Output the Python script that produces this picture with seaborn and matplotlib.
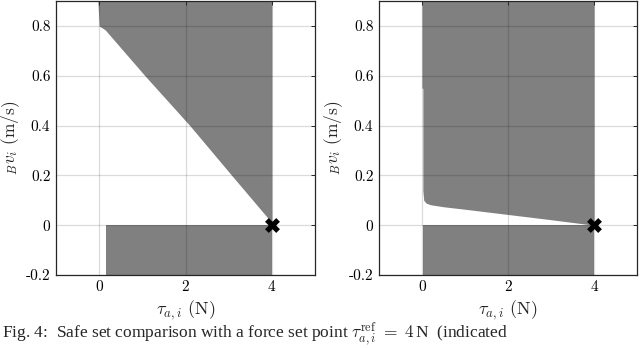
import os
import matplotlib
matplotlib.use("Agg")
import matplotlib.pyplot as plt
from matplotlib.font_manager import FontProperties
import numpy as np
import pandas as pd
import seaborn as sns

# ---------------- data ----------------
# left panel: upper shaded region (above this boundary up to the top of the axes)
left_upper_tau = [-0.03, 0.00, 0.14, 1.06, 2.10, 3.07, 4.00]
left_upper_v = [0.90, 0.80, 0.784, 0.60, 0.40, 0.20, 0.01]
# left panel: lower shaded block
left_lower_tau = [0.16, 4.00]
left_lower_v = [0.0, 0.0]

# right panel: upper shaded region boundary
right_upper_tau = [0.00, 0.02, 0.02, 0.04, 0.10, 0.20, 0.50, 1.00, 2.00, 3.00, 4.00]
right_upper_v = [0.55, 0.55, 0.14, 0.100, 0.088, 0.082, 0.074, 0.064, 0.043, 0.022, 0.00]
# right panel: lower shaded block
right_lower_tau = [0.03, 4.00]
right_lower_v = [0.0, 0.0]

# reference set point (marker)
ref_tau = [4.0]
ref_v = [0.0]

x_ticks = [0, 2, 4]
x_ticklabels = ["0", "2", "4"]
y_ticks = [-0.2, 0.0, 0.2, 0.4, 0.6, 0.8]
y_ticklabels = ["-0.2", "0", "0.2", "0.4", "0.6", "0.8"]
x_lim = (-1, 5)
y_lim = (-0.2, 0.9)

xlabel = r"$\tau_{a,i}$ (N)"
ylabel = r"${}_{B}v_{i}$ (m/s)"
caption = (r"Fig. 4:  Safe set comparison with a force set point "
           r"$\tau^{\mathrm{ref}}_{a,i}\;=\;4\,$N  (indicated")

# ---------------- styling ----------------
sns.set_theme(style="white")
plt.rcParams.update({
    "font.family": ["cmr10", "DejaVu Serif"],
    "mathtext.fontset": "cm",
    "axes.unicode_minus": False,
    "axes.formatter.use_mathtext": True,
    "axes.edgecolor": "#262626",
    "axes.linewidth": 0.9,
})

cm_path = os.path.join(matplotlib.get_data_path(), "fonts", "ttf", "cmr10.ttf")
tick_font = FontProperties(fname=cm_path, size=11)
label_font = FontProperties(fname=cm_path, size=13)

fill_color = "#808080"

fig = plt.figure(figsize=(6.4, 3.48), dpi=100)
ax_l = fig.add_axes([56 / 640, 1 - 275 / 348, 259 / 640, 274 / 348])
ax_r = fig.add_axes([379 / 640, 1 - 275 / 348, 258 / 640, 274 / 348])


def draw_panel(ax, up_tau, up_v, lo_tau, lo_v):
    top = y_lim[1]
    bottom = y_lim[0]
    ax.fill_between(up_tau, up_v, [top] * len(up_tau), color=fill_color,
                    linewidth=0, zorder=1)
    ax.fill_between(lo_tau, [bottom] * len(lo_tau), lo_v, color=fill_color,
                    linewidth=0, zorder=1)
    pts = pd.DataFrame({"tau": ref_tau, "v": ref_v})
    sns.scatterplot(data=pts, x="tau", y="v", ax=ax, marker="X", s=115,
                    color="black", linewidth=0, zorder=5, legend=False)
    ax.set_xlim(*x_lim)
    ax.set_ylim(*y_lim)
    ax.set_xticks(x_ticks)
    ax.set_xticklabels(x_ticklabels, fontproperties=tick_font)
    ax.set_yticks(y_ticks)
    ax.set_yticklabels(y_ticklabels, fontproperties=tick_font)
    ax.grid(True, color="black", alpha=0.14, linewidth=0.9)
    ax.set_axisbelow(False)
    ax.tick_params(axis="both", which="both", direction="in", top=True,
                   right=True, length=3, width=0.7, pad=4,
                   colors="#262626", labelcolor="black")
    ax.set_xlabel(xlabel, fontproperties=label_font, labelpad=3)
    ax.set_ylabel(ylabel, fontproperties=FontProperties(fname=cm_path, size=12.5),
                  labelpad=3)
    for s in ax.spines.values():
        s.set_visible(True)
        s.set_zorder(6)


draw_panel(ax_l, left_upper_tau, left_upper_v, left_lower_tau, left_lower_v)
draw_panel(ax_r, right_upper_tau, right_upper_v, right_lower_tau, right_lower_v)

fig.text(0.003, 1 - 338 / 348, caption, ha="left", va="baseline", fontsize=12.5,
         family=["Liberation Serif", "DejaVu Serif"])

fig.savefig("out.png", dpi=100)
